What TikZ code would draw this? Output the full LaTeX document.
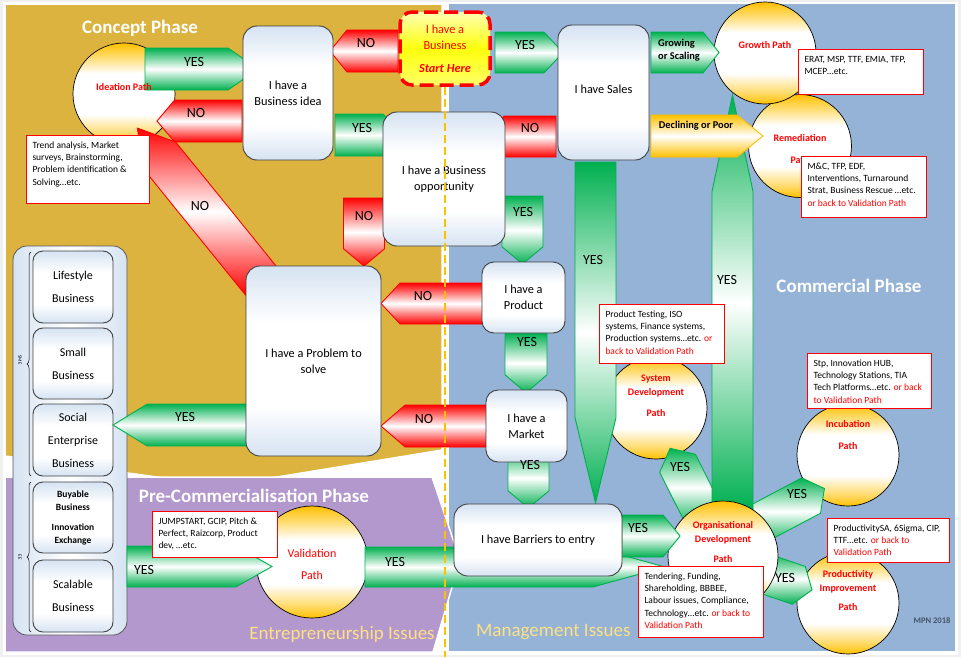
\documentclass[tikz,border=0pt]{standalone}
\usepackage{fontspec}
\setmainfont{Carlito}
\usetikzlibrary{shapes.arrows, decorations.pathreplacing}

\definecolor{conceptgold}{RGB}{219,179,62}
\definecolor{commblue}{RGB}{149,179,215}
\definecolor{precpurple}{RGB}{178,152,204}
\definecolor{boxblue}{RGB}{214,227,242}
\definecolor{pathorange}{RGB}{255,192,0}
\definecolor{yesgreen}{RGB}{0,176,80}
\definecolor{issuecream}{RGB}{255,224,130}
\definecolor{mpnblue}{RGB}{68,84,106}
\definecolor{boxedge}{RGB}{64,64,64}

\pgfdeclareverticalshading{pathshade}{100bp}{color(0bp)=(pathorange); color(25bp)=(pathorange);
  color(31bp)=(pathorange!55!white); color(40bp)=(white); color(60bp)=(white);
  color(68bp)=(pathorange!55!white); color(75bp)=(pathorange); color(100bp)=(pathorange)}
\pgfdeclareverticalshading{stepshade}{100bp}{color(0bp)=(boxblue); color(25bp)=(boxblue);
  color(38bp)=(white); color(60bp)=(white); color(75bp)=(boxblue); color(100bp)=(boxblue)}

\tikzset{
  stepbox/.style={rectangle, rounded corners=14pt, draw=boxedge, line width=0.9pt,
    shading=stepshade, align=center, font=\fontsize{12.3}{16}\selectfont, inner sep=2pt},
  typebox/.style={stepbox, rounded corners=10pt, minimum width=80pt, font=\fontsize{12}{23}\selectfont},
  startbox/.style={rectangle, rounded corners=12pt, draw=red, line width=3.5pt,
    dash pattern=on 14pt off 6pt, top color=yellow!30, bottom color=yellow!60, middle color=yellow!95,
    text=red, align=center, font=\fontsize{12.3}{16}\selectfont},
  pathcircle/.style={circle, draw=black, line width=0.7pt, shading=pathshade, inner sep=0pt},
  pathtext/.style={text=red, font=\bfseries\fontsize{10}{14}\selectfont, align=center, inner sep=0pt},
  infobox/.style={rectangle, draw=red, line width=1pt, fill=white, anchor=north west,
    inner xsep=6pt, inner ysep=4pt, font=\fontsize{9.5}{12.4}\selectfont},
  blockarrow/.style={single arrow, single arrow head extend=0pt, anchor=tail,
    inner sep=0pt, outer sep=0pt, line width=0.9pt},
  yesarrow/.style={blockarrow, draw=yesgreen, top color=yesgreen, bottom color=yesgreen, middle color=white},
  noarrow/.style={blockarrow, draw=red, top color=red, bottom color=red, middle color=white},
  poorarrow/.style={blockarrow, draw=pathorange, top color=pathorange, bottom color=pathorange, middle color=white},
  arrowtext/.style={font=\fontsize{14}{14}\selectfont, inner sep=0pt},
  phasetitle/.style={text=white, font=\bfseries\fontsize{19}{19}\selectfont, inner sep=0pt},
  issuetitle/.style={text=issuecream, font=\fontsize{19}{19}\selectfont, inner sep=0pt},
}

\newcommand{\infolines}[3]{\parbox[t][#2][t]{#1}{\begin{tabular}{@{}l@{}}#3\end{tabular}}}

\begin{document}
\begin{tikzpicture}[x=1pt, y=-1pt]
    \useasboundingbox (0,0) rectangle (961,657);

    % Phase panels
    \fill[gray!12] (0,0) rectangle (961,657);
    \fill[white] (3,2) rectangle (958,655);
    \fill[commblue] (449,4) rectangle (955,651);
    \filldraw[fill=conceptgold, draw=white, line width=1.5pt]
        (5,4) -- (442,4) -- (442,450) -- (222,486) -- (5,456) -- cycle;
    \filldraw[fill=precpurple, draw=white, line width=1.5pt]
        (5,477) -- (432,477) -- (460,560) -- (433,652) -- (5,652) -- cycle;

    % Business types
    \node[rectangle, rounded corners=14pt, draw=gray!70!black, line width=0.8pt,
        left color=boxblue, right color=boxblue, middle color=white,
        minimum width=114pt, minimum height=389pt] (typepanel) at (70,440.5) {};
    \node[typebox, minimum height=72pt] (lifestyle) at (73,287) {Lifestyle\\Business};
    \node[typebox, minimum height=71pt] (small) at (73,363.5) {Small\\Business};
    \node[typebox, minimum height=72pt] (social) at (73,440) {Social\\Enterprise\\Business};
    \node[typebox, minimum height=71pt, font=\bfseries\fontsize{9.5}{13}\selectfont] (buyable) at (73,517.5)
        {Buyable\\Business\\[7pt]Innovation\\Exchange};
    \node[typebox, minimum height=72pt] (scalable) at (73,596) {Scalable\\Business};
    \draw[decorate, decoration={brace, amplitude=4pt}, line width=0.5pt] (31,476) -- (31,252);
    \draw[decorate, decoration={brace, amplitude=4pt}, line width=0.5pt] (31,632) -- (31,482);
    \node[rotate=-90, font=\fontsize{5}{5}\selectfont, inner sep=0pt] (smelabel) at (20,360) {SME};
    \node[rotate=-90, font=\fontsize{5}{5}\selectfont, inner sep=0pt] (eelabel) at (20,557) {EE};

    % Paths
    \node[pathcircle, minimum size=102pt] (ideation) at (124,94) {};
    \node[pathcircle, minimum size=103pt] (remediation) at (800,146) {};
    \node[pathcircle, minimum size=102pt] (growth) at (765,53) {};
    \node[pathcircle, minimum size=102pt] (system) at (656,408) {};
    \node[pathcircle, minimum size=102pt] (incubation) at (848,455) {};
    \node[pathcircle, minimum size=102pt] (productivity) at (848,603) {};
    \node[pathcircle, minimum size=112pt] (validation) at (312,562) {};

    % Arrows leaving organisational development
    \node[yesarrow, rotate=116.6, minimum height=78pt, minimum width=40pt, single arrow tip angle=100] (os) at (705,518) {};
    \node[yesarrow, rotate=28, minimum height=82pt, minimum width=40pt, single arrow tip angle=106] (oi) at (752,527) {};
    \node[yesarrow, rotate=-19, minimum height=55pt, minimum width=40pt, single arrow tip angle=110] (op) at (760,572) {};
    \node[yesarrow, rotate=90, minimum height=415pt, minimum width=41pt, single arrow tip angle=24] (or) at (732.5,510) {};
    \node[pathcircle, minimum size=110pt] (orgdev) at (723,556) {};

    % Other arrows
    \node[noarrow, rotate=129, minimum height=198pt, minimum width=42pt, single arrow tip angle=62] (pi) at (262,282) {};
    \node[yesarrow, minimum height=113pt, minimum width=42pt, single arrow tip angle=70] (ib) at (145,69) {};
    \node[noarrow, rotate=180, minimum height=85pt, minimum width=42pt, single arrow tip angle=100] (bi) at (242,121) {};
    \node[noarrow, rotate=180, minimum height=68pt, minimum width=42pt, single arrow tip angle=102] (sb) at (398,51) {};
    \node[yesarrow, minimum height=68pt, minimum width=42pt, single arrow tip angle=93] (bo) at (335,135) {};
    \node[yesarrow, minimum height=68pt, minimum width=41pt, single arrow tip angle=94] (ss) at (495,52.5) {};
    \node[yesarrow, minimum height=68pt, minimum width=41pt, single arrow tip angle=104] (sg) at (651,52.5) {};
    \node[poorarrow, minimum height=112pt, minimum width=42pt, single arrow tip angle=78] (sr) at (651,136) {};
    \node[noarrow, rotate=180, minimum height=68pt, minimum width=41pt, single arrow tip angle=104] (so) at (556,136.5) {};
    \node[noarrow, rotate=270, minimum height=68pt, minimum width=41pt, single arrow tip angle=100] (opr) at (364,198) {};
    \node[yesarrow, rotate=270, minimum height=68pt, minimum width=41pt, single arrow tip angle=100] (opd) at (522.5,196) {};
    \node[noarrow, rotate=180, minimum height=103pt, minimum width=41pt, single arrow tip angle=94] (pdp) at (484,303.5) {};
    \node[yesarrow, rotate=270, minimum height=60pt, minimum width=42pt, single arrow tip angle=98] (pdm) at (526,333) {};
    \node[noarrow, rotate=180, minimum height=106pt, minimum width=42pt, single arrow tip angle=82] (mp) at (487,426) {};
    \node[yesarrow, rotate=270, minimum height=60pt, minimum width=41pt, single arrow tip angle=100] (mb) at (528.5,448) {};
    \node[yesarrow, rotate=270, minimum height=341pt, minimum width=41pt, single arrow tip angle=27] (sbe) at (595.5,162) {};
    \node[yesarrow, rotate=180, minimum height=134pt, minimum width=42pt, single arrow tip angle=63] (ps) at (247,425) {};
    \node[yesarrow, minimum height=145pt, minimum width=41pt, single arrow tip angle=59] (ev) at (127,566.5) {};
    \node[yesarrow, minimum height=300pt, minimum width=40pt, single arrow tip angle=31] (vo) at (365,567) {};
    \node[yesarrow, minimum height=58pt, minimum width=42pt, single arrow tip angle=102] (bto) at (622,536) {};

    % Path names
    \node[pathtext] (ideationtxt) at (124,87) {Ideation Path};
    \node[pathtext] (growthtxt) at (765,45) {Growth Path};
    \node[pathtext] (remedtxt) at (800,149) {Remediation\\[8pt]Path};
    \node[pathtext] (systemtxt) at (656,395.5) {System\\Development\\[7pt]Path};
    \node[pathtext] (incubtxt) at (848,435) {Incubation\\[8pt]Path};
    \node[pathtext] (prodtxt) at (848,591) {Productivity\\Improvement\\[5pt]Path};
    \node[pathtext] (orgtxt) at (723,542) {Organisational\\Development\\[6pt]Path};
    \node[pathtext, font=\fontsize{12}{14}\selectfont] (validtxt) at (312,564) {Validation\\[8pt]Path};

    % Stages
    \node[stepbox, minimum width=90pt, minimum height=134pt] (idea) at (288,93) {I have a\\Business idea};
    \node[startbox, minimum width=90pt, minimum height=73pt] (start) at (445,48.5)
        {I have a\\Business\\[7pt]\textbf{\textit{Start Here}}};
    \node[stepbox, minimum width=91pt, minimum height=135pt] (sales) at (603.5,92.5) {\raisebox{7pt}{I have Sales}};
    \node[stepbox, minimum width=122pt, minimum height=134pt] (opp) at (444,179) {I have a Business\\opportunity};
    \node[stepbox, rounded corners=12pt, minimum width=83pt, minimum height=71pt] (product) at (523.5,297.5) {I have a\\Product};
    \node[stepbox, rounded corners=12pt, minimum width=81pt, minimum height=72pt] (market) at (526.5,426) {I have a\\Market};
    \node[stepbox, minimum width=135pt, minimum height=190pt] (problem) at (313.5,361) {I have a Problem to\\solve};
    \node[stepbox, minimum width=168pt, minimum height=72pt] (barriers) at (538,540) {I have Barriers to entry};

    % Support lists
    \node[infobox] (ideabox) at (26,135) {\infolines{111pt}{60pt}{Trend analysis, Market\\ surveys, Brainstorming,\\ Problem identification \&\\ Solving…etc.}};
    \node[infobox] (growthbox) at (798,49) {\infolines{113pt}{37pt}{ERAT, MSP, TTF, EMIA, TFP,\\ MCEP…etc.}};
    \node[infobox] (remedbox) at (801,156) {\infolines{113pt}{53pt}{M\&C, TFP, EDF,\\ Interventions, Turnaround\\ Strat, Business Rescue …etc.\\ \textcolor{red}{or back to Validation Path}}};
    \node[infobox] (sysbox) at (599,304) {\infolines{113pt}{51pt}{Product Testing, ISO\\ systems, Finance systems,\\ Production systems…etc. \textcolor{red}{or}\\ \textcolor{red}{back to Validation Path}}};
    \node[infobox] (incubox) at (807,353) {\infolines{112pt}{47pt}{Stp, Innovation HUB,\\ Technology Stations, TIA\\ Tech Platforms…etc. \textcolor{red}{or back}\\ \textcolor{red}{to Validation Path}}};
    \node[infobox] (prodbox) at (827,518) {\infolines{110pt}{36pt}{ProductivitySA, 6Sigma, CIP,\\ TTF…etc. \textcolor{red}{or back to}\\ \textcolor{red}{Validation Path}}};
    \node[infobox] (orgbox) at (638,566) {\infolines{113pt}{63pt}{Tendering, Funding,\\ Shareholding, BBBEE,\\ Labour issues, Compliance,\\ Technology…etc. \textcolor{red}{or back to}\\ \textcolor{red}{Validation Path}}};
    \node[infobox] (valbox) at (152,511) {\infolines{113pt}{38pt}{JUMPSTART, GCIP, Pitch \&\\ Perfect, Raizcorp, Product\\ dev, …etc.}};

    % Phase divider
    \coordinate (divbottom) at (445,657);
    \draw[pathorange, line width=1.6pt, dash pattern=on 8pt off 4pt] (start.south) -- (divbottom);

    % Arrow labels
    \node[arrowtext] (ibt) at (194,62) {YES};
    \node[arrowtext] (bit) at (196,113) {NO};
    \node[arrowtext] (sbt) at (366,43) {NO};
    \node[arrowtext] (bot) at (362,128) {YES};
    \node[arrowtext] (sst) at (525,45) {YES};
    \node[anchor=west, align=left, font=\bfseries\fontsize{10.4}{13}\selectfont, inner sep=0pt] (sgt) at (658,50.5) {Growing\\or Scaling};
    \node[font=\bfseries\fontsize{10.4}{13}\selectfont, inner sep=0pt] (srt) at (696,126) {Declining or Poor};
    \node[arrowtext] (sot) at (530,128) {NO};
    \node[arrowtext] (oprt) at (364,216) {NO};
    \node[arrowtext] (opdt) at (523,212) {YES};
    \node[arrowtext] (pdpt) at (423,296) {NO};
    \node[arrowtext] (pdmt) at (527,342) {YES};
    \node[arrowtext] (mpt) at (424,419) {NO};
    \node[arrowtext] (mbt) at (530,465) {YES};
    \node[arrowtext] (sbet) at (593,260) {YES};
    \node[arrowtext] (ort) at (727,280) {YES};
    \node[arrowtext] (pst) at (185,417) {YES};
    \node[arrowtext] (evt) at (144,570) {YES};
    \node[arrowtext] (vot) at (395,562) {YES};
    \node[arrowtext] (btot) at (638,528) {YES};
    \node[arrowtext] (ost) at (680,467) {YES};
    \node[arrowtext] (oit) at (797,494) {YES};
    \node[arrowtext] (opt) at (785,578) {YES};
    \node[arrowtext] (pit) at (200,206) {NO};

    % Titles
    \node[phasetitle] (concept) at (140,28) {Concept Phase};
    \node[phasetitle] (commercial) at (849,286) {Commercial Phase};
    \node[phasetitle] (precomm) at (254,496) {Pre-Commercialisation Phase};
    \node[issuetitle] (entre) at (342,634) {Entrepreneurship Issues};
    \node[issuetitle, anchor=west] (mgmt) at (476,632) {Management Issues};
    \node[font=\bfseries\fontsize{8.5}{8.5}\selectfont, text=mpnblue, inner sep=0pt] (mpn) at (932,621) {MPN 2018};
\end{tikzpicture}
\end{document}
